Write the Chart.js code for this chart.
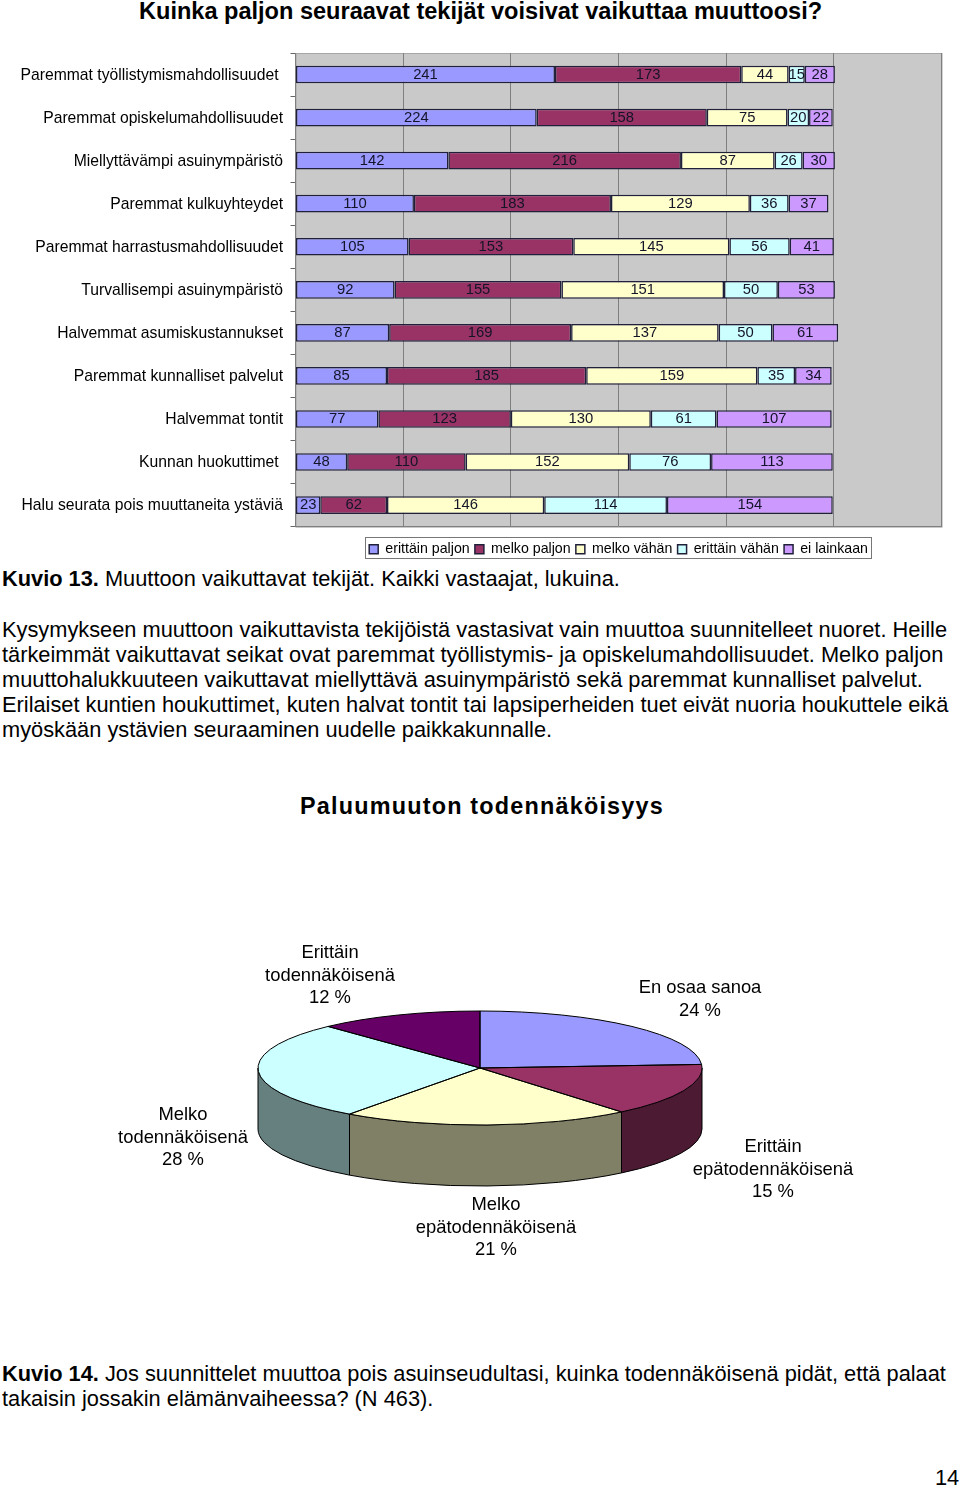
<!DOCTYPE html>
<html lang="fi">
<head>
<meta charset="utf-8">
<title>Kuvio 13 ja 14</title>
<script src="https://cdn.jsdelivr.net/npm/chart.js@4"></script>
<style>
  html, body { margin: 0; background: #fff; }
  body { position: relative; width: 960px; height: 1486px; overflow: hidden; font-family: "Liberation Sans", Arial, sans-serif; color: #000; }
  canvas { position: absolute; left: 0; }
  #barChart { top: 0; }
  #pieChart { top: 838px; }
  .line { position: absolute; left: 2px; white-space: nowrap; font-size: 21.8px; line-height: 25px; }
  .pie-label { position: absolute; width: 240px; text-align: center; font-size: 18.4px; line-height: 22.5px; }
  #title { position: absolute; left: 139px; top: 0; font-size: 23.55px; line-height: 23px; font-weight: bold; white-space: nowrap; }
  #pieTitle { position: absolute; left: 300px; top: 792px; font-size: 23.4px; line-height: 28px; font-weight: bold; letter-spacing: 1.2px; white-space: nowrap; }
  #pageNo { position: absolute; left: 935px; top: 1465px; font-size: 21.8px; line-height: 25px; }
</style>
</head>
<body>
<div id="title">Kuinka paljon seuraavat tekijät voisivat vaikuttaa muuttoosi?</div>
<canvas id="barChart" width="960" height="566"></canvas>

<div class="line" style="top:566px"><b>Kuvio 13.</b> Muuttoon vaikuttavat tekijät. Kaikki vastaajat, lukuina.</div>
<div class="line" style="top:617px">Kysymykseen muuttoon vaikuttavista tekijöistä vastasivat vain muuttoa suunnitelleet nuoret. Heille</div>
<div class="line" style="top:642px">tärkeimmät vaikuttavat seikat ovat paremmat työllistymis- ja opiskelumahdollisuudet. Melko paljon</div>
<div class="line" style="top:667px">muuttohalukkuuteen vaikuttavat miellyttävä asuinympäristö sekä paremmat kunnalliset palvelut.</div>
<div class="line" style="top:692px">Erilaiset kuntien houkuttimet, kuten halvat tontit tai lapsiperheiden tuet eivät nuoria houkuttele eikä</div>
<div class="line" style="top:717px">myöskään ystävien seuraaminen uudelle paikkakunnalle.</div>

<div id="pieTitle">Paluumuuton todennäköisyys</div>
<canvas id="pieChart" width="960" height="460"></canvas>
<div class="pie-label" style="left:210px;top:941px">Erittäin<br>todennäköisenä<br>12 %</div>
<div class="pie-label" style="left:580px;top:976px">En osaa sanoa<br>24 %</div>
<div class="pie-label" style="left:63px;top:1103px">Melko<br>todennäköisenä<br>28 %</div>
<div class="pie-label" style="left:653px;top:1135px">Erittäin<br>epätodennäköisenä<br>15 %</div>
<div class="pie-label" style="left:376px;top:1193px">Melko<br>epätodennäköisenä<br>21 %</div>

<div class="line" style="top:1361px"><b>Kuvio 14.</b> Jos suunnittelet muuttoa pois asuinseudultasi, kuinka todennäköisenä pidät, että palaat</div>
<div class="line" style="top:1386px">takaisin jossakin elämänvaiheessa? (N 463).</div>
<div id="pageNo">14</div>

<script>
// trailing space on two labels: they sit a bit left of the others in the original
const categories = [
  "Paremmat työllistymismahdollisuudet ",
  "Paremmat opiskelumahdollisuudet",
  "Miellyttävämpi asuinympäristö",
  "Paremmat kulkuyhteydet",
  "Paremmat harrastusmahdollisuudet",
  "Turvallisempi asuinympäristö",
  "Halvemmat asumiskustannukset",
  "Paremmat kunnalliset palvelut",
  "Halvemmat tontit",
  "Kunnan huokuttimet ",
  "Halu seurata pois muuttaneita ystäviä",
];
const erittainPaljon = [241, 224, 142, 110, 105, 92, 87, 85, 77, 48, 23];
const melkoPaljon = [173, 158, 216, 183, 153, 155, 169, 185, 123, 110, 62];
const melkoVahan = [44, 75, 87, 129, 145, 151, 137, 159, 130, 152, 146];
const erittainVahan = [15, 20, 26, 36, 56, 50, 50, 35, 61, 76, 114];
const eiLainkaan = [28, 22, 30, 37, 41, 53, 61, 34, 107, 113, 154];

const pieCategories = [
  "En osaa sanoa",
  "Erittäin epätodennäköisenä",
  "Melko epätodennäköisenä",
  "Melko todennäköisenä",
  "Erittäin todennäköisenä",
];
const pieValues = [24, 15, 21, 28, 12];
const pieColors = ["#9999ff", "#993366", "#ffffcc", "#ccffff", "#660066"];
const pieSideColors = ["#4d4d80", "#4d1a33", "#808066", "#668080", "#330033"];

const FONT = "'Liberation Sans', Arial, sans-serif";

// grey plot background and the frame round the legend
const barBackground = {
  id: "barBackground",
  beforeDraw(chart) {
    const { ctx, chartArea: a, legend } = chart;
    ctx.save();
    ctx.fillStyle = "#c9c9c9";
    ctx.fillRect(a.left, a.top, a.width, a.height);
    ctx.strokeStyle = "#a6a6a6";
    ctx.strokeRect(a.left + 0.5, a.top + 0.5, a.width, a.height);
    ctx.strokeStyle = "#777";
    ctx.strokeRect(365.5, 537.5, 506, 21);
    ctx.restore();
    // legend sits under the plot, not centred on the page
    legend.left = 364;
    legend.top = 537;
  },
};

const barValueLabels = {
  id: "barValueLabels",
  afterDatasetsDraw(chart) {
    const { ctx } = chart;
    ctx.save();
    ctx.font = "14.8px " + FONT;
    ctx.fillStyle = "#141428";
    ctx.textAlign = "center";
    ctx.textBaseline = "middle";
    chart.data.datasets.forEach((dataset, i) => {
      chart.getDatasetMeta(i).data.forEach((bar, j) => {
        const c = bar.getCenterPoint();
        ctx.fillText(dataset.data[j], c.x, c.y);
      });
    });
    ctx.restore();
  },
};

const barColors = ["#9999ff", "#993366", "#ffffcc", "#ccffff", "#cc99ff"];
const barSeries = [
  ["erittäin paljon", erittainPaljon],
  ["melko paljon", melkoPaljon],
  ["melko vähän", melkoVahan],
  ["erittäin vähän", erittainVahan],
  ["ei lainkaan", eiLainkaan],
];

new Chart(document.getElementById("barChart"), {
  type: "bar",
  data: {
    labels: categories,
    datasets: barSeries.map(([label, data], i) => ({
      label: label,
      data: data,
      backgroundColor: barColors[i],
      borderColor: "#20203a",
      borderWidth: 1.5,
      borderSkipped: false,
      barPercentage: 0.41,
      categoryPercentage: 1,
    })),
  },
  options: {
    indexAxis: "y",
    responsive: false,
    animation: false,
    layout: { padding: { top: 53, right: 18.5, bottom: 0, left: 0 } },
    plugins: {
      tooltip: { enabled: false },
      legend: {
        position: "bottom",
        align: "start",
        labels: {
          boxWidth: 9,
          boxHeight: 9,
          padding: 5.2,
          color: "#000",
          font: { family: FONT, size: 14.2 },
        },
      },
    },
    scales: {
      x: {
        stacked: true,
        min: 0,
        max: 600,
        ticks: { stepSize: 100, display: false },
        grid: { color: "#7f7f7f", drawTicks: false, tickLength: 0 },
        border: { color: "#7f7f7f" },
        afterFit(scale) { scale.height = 10; },
      },
      y: {
        stacked: true,
        afterFit(scale) { scale.width = 295.5; },
        ticks: { color: "#000", padding: 7.5, labelOffset: 1, autoSkip: false, font: { family: FONT, size: 15.7 } },
        grid: { drawOnChartArea: false, tickLength: 5, color: "#666" },
        border: { color: "#7f7f7f" },
      },
    },
  },
  plugins: [barBackground, barValueLabels],
});

// Chart.js has no 3D pie: squash its arcs vertically and add the side wall under them
const PIE_RADIUS = 222;
const PIE_RY = 57;
const PIE_DEPTH = 61;

const pieTilt = {
  id: "pieTilt",
  beforeDatasetsDraw(chart) {
    const { ctx } = chart;
    const arcs = chart.getDatasetMeta(0).data;
    const cx = arcs[0].x;
    const cy = arcs[0].y;
    ctx.save();
    ctx.strokeStyle = "#000";
    ctx.lineWidth = 1;
    arcs.forEach((arc, i) => {
      const a = Math.max(arc.startAngle, 0);
      const b = Math.min(arc.endAngle, Math.PI);
      if (b <= a) return;
      ctx.beginPath();
      ctx.ellipse(cx, cy, PIE_RADIUS, PIE_RY, 0, a, b);
      ctx.ellipse(cx, cy + PIE_DEPTH, PIE_RADIUS, PIE_RY, 0, b, a, true);
      ctx.closePath();
      ctx.fillStyle = pieSideColors[i];
      ctx.fill();
      ctx.stroke();
    });
    ctx.restore();
    ctx.save();
    ctx.translate(cx, cy);
    ctx.scale(1, PIE_RY / PIE_RADIUS);
    ctx.translate(-cx, -cy);
  },
  afterDatasetsDraw(chart) {
    const { ctx } = chart;
    ctx.restore();
    // outline drawn unscaled so the line keeps an even width
    const arcs = chart.getDatasetMeta(0).data;
    ctx.save();
    ctx.strokeStyle = "#000";
    ctx.lineWidth = 1;
    arcs.forEach((arc) => {
      ctx.beginPath();
      ctx.moveTo(arc.x, arc.y);
      ctx.ellipse(arc.x, arc.y, PIE_RADIUS, PIE_RY, 0, arc.startAngle, arc.endAngle);
      ctx.closePath();
      ctx.stroke();
    });
    ctx.restore();
  },
};

new Chart(document.getElementById("pieChart"), {
  type: "pie",
  data: {
    labels: pieCategories,
    datasets: [
      {
        data: pieValues,
        backgroundColor: pieColors,
        borderWidth: 0,
        radius: PIE_RADIUS,
      },
    ],
  },
  options: {
    responsive: false,
    animation: false,
    plugins: { legend: { display: false }, tooltip: { enabled: false } },
  },
  plugins: [pieTilt],
});
</script>
</body>
</html>
